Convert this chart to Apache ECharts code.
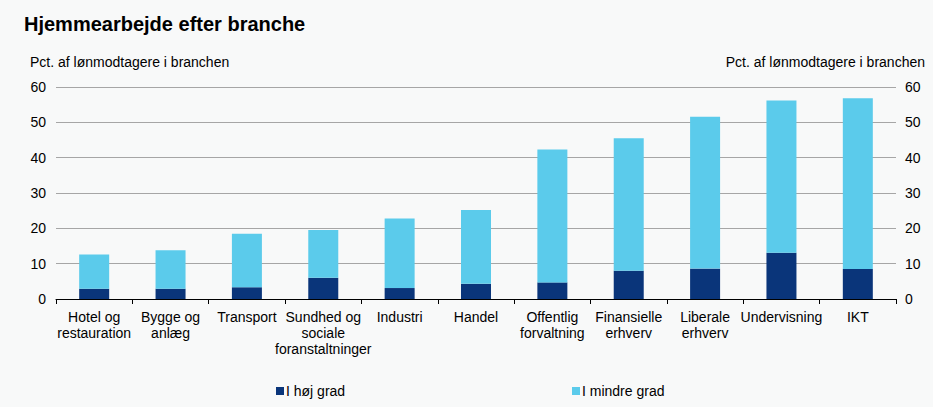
<!DOCTYPE html>
<html>
<head>
<meta charset="utf-8">
<script src="https://cdn.jsdelivr.net/npm/echarts@6/dist/echarts.min.js"></script>
<style>
  html, body { margin: 0; padding: 0; background: #f8f9f9; }
  #chart { width: 933px; height: 407px; }
</style>
</head>
<body>
<div id="chart"></div>
<script>
// brancher
var categories = [
  'Hotel og\nrestauration', 'Bygge og\nanlæg', 'Transport', 'Sundhed og\nsociale\nforanstaltninger',
  'Industri', 'Handel', 'Offentlig\nforvaltning', 'Finansielle\nerhverv', 'Liberale\nerhverv',
  'Undervisning', 'IKT'
]
// I høj grad
var hoejGrad = [2.9, 2.9, 3.3, 6.0, 3.1, 4.3, 4.7, 8.0, 8.6, 13.1, 8.5]
// I mindre grad (stablet oven på)
var mindreGrad = [9.7, 10.9, 15.2, 13.5, 19.7, 20.9, 37.6, 37.5, 43.0, 43.1, 48.3]
var yTicks = { min: 0, max: 60, interval: 10 }

var myChart = echarts.init(document.getElementById('chart'), null, { renderer: 'svg' })

var font = 'Arial, "Liberation Sans", sans-serif'

var option = {
  backgroundColor: '#f8f9f9',
  textStyle: { fontFamily: font },
  title: {
    text: 'Hjemmearbejde efter branche',
    left: 19,
    top: 9,
    textStyle: { fontSize: 20, fontWeight: 'bold', color: '#000', fontFamily: font },
  },
  graphic: [
    {
      type: 'text',
      left: 30,
      top: 55,
      style: { text: 'Pct. af lønmodtagere i branchen', fontSize: 14, fill: '#000', fontFamily: font },
    },
    {
      type: 'text',
      right: 8,
      top: 55,
      style: { text: 'Pct. af lønmodtagere i branchen', fontSize: 14, fill: '#000', fontFamily: font },
    },
  ],
  legend: [
    {
      data: ['I høj grad'],
      left: 271,
      top: 379,
      itemWidth: 8,
      itemHeight: 8,
      icon: 'rect',
      textStyle: { fontSize: 14, color: '#000', fontFamily: font, padding: [0, 0, 0, -3] },
    },
    {
      data: ['I mindre grad'],
      left: 567,
      top: 379,
      itemWidth: 8,
      itemHeight: 8,
      icon: 'rect',
      textStyle: { fontSize: 14, color: '#000', fontFamily: font, padding: [0, 0, 0, -3] },
    },
  ],
  grid: {
    left: 56,
    right: 37,
    top: 87,
    bottom: 108,
    containLabel: false,
  },
  xAxis: {
    type: 'category',
    data: categories,
    boundaryGap: true,
    axisLine: { lineStyle: { color: '#000', width: 1 } },
    axisTick: { show: true, length: 5, lineStyle: { color: '#000' } },
    axisLabel: {
      interval: 0,
      color: '#000',
      fontSize: 14,
      lineHeight: 16,
      margin: 10,
      fontFamily: font,
    },
  },
  yAxis: [
    {
      type: 'value',
      min: yTicks.min,
      max: yTicks.max,
      interval: yTicks.interval,
      position: 'left',
      axisLine: { show: false },
      axisTick: { show: false },
      splitLine: { lineStyle: { color: '#a6a6a6', width: 1 } },
      axisLabel: { color: '#000', fontSize: 14, margin: 10, fontFamily: font },
    },
    {
      type: 'value',
      min: yTicks.min,
      max: yTicks.max,
      interval: yTicks.interval,
      position: 'right',
      axisLine: { show: false },
      axisTick: { show: false },
      splitLine: { show: false },
      axisLabel: { color: '#000', fontSize: 14, margin: 9, fontFamily: font },
    },
  ],
  series: [
    {
      name: 'I høj grad',
      type: 'bar',
      stack: 'total',
      data: hoejGrad,
      barWidth: 30,
      itemStyle: { color: '#0a357a' },
    },
    {
      name: 'I mindre grad',
      type: 'bar',
      stack: 'total',
      data: mindreGrad,
      barWidth: 30,
      itemStyle: { color: '#5bcbeb' },
    },
  ],
}

myChart.setOption(option)
</script>
</body>
</html>
